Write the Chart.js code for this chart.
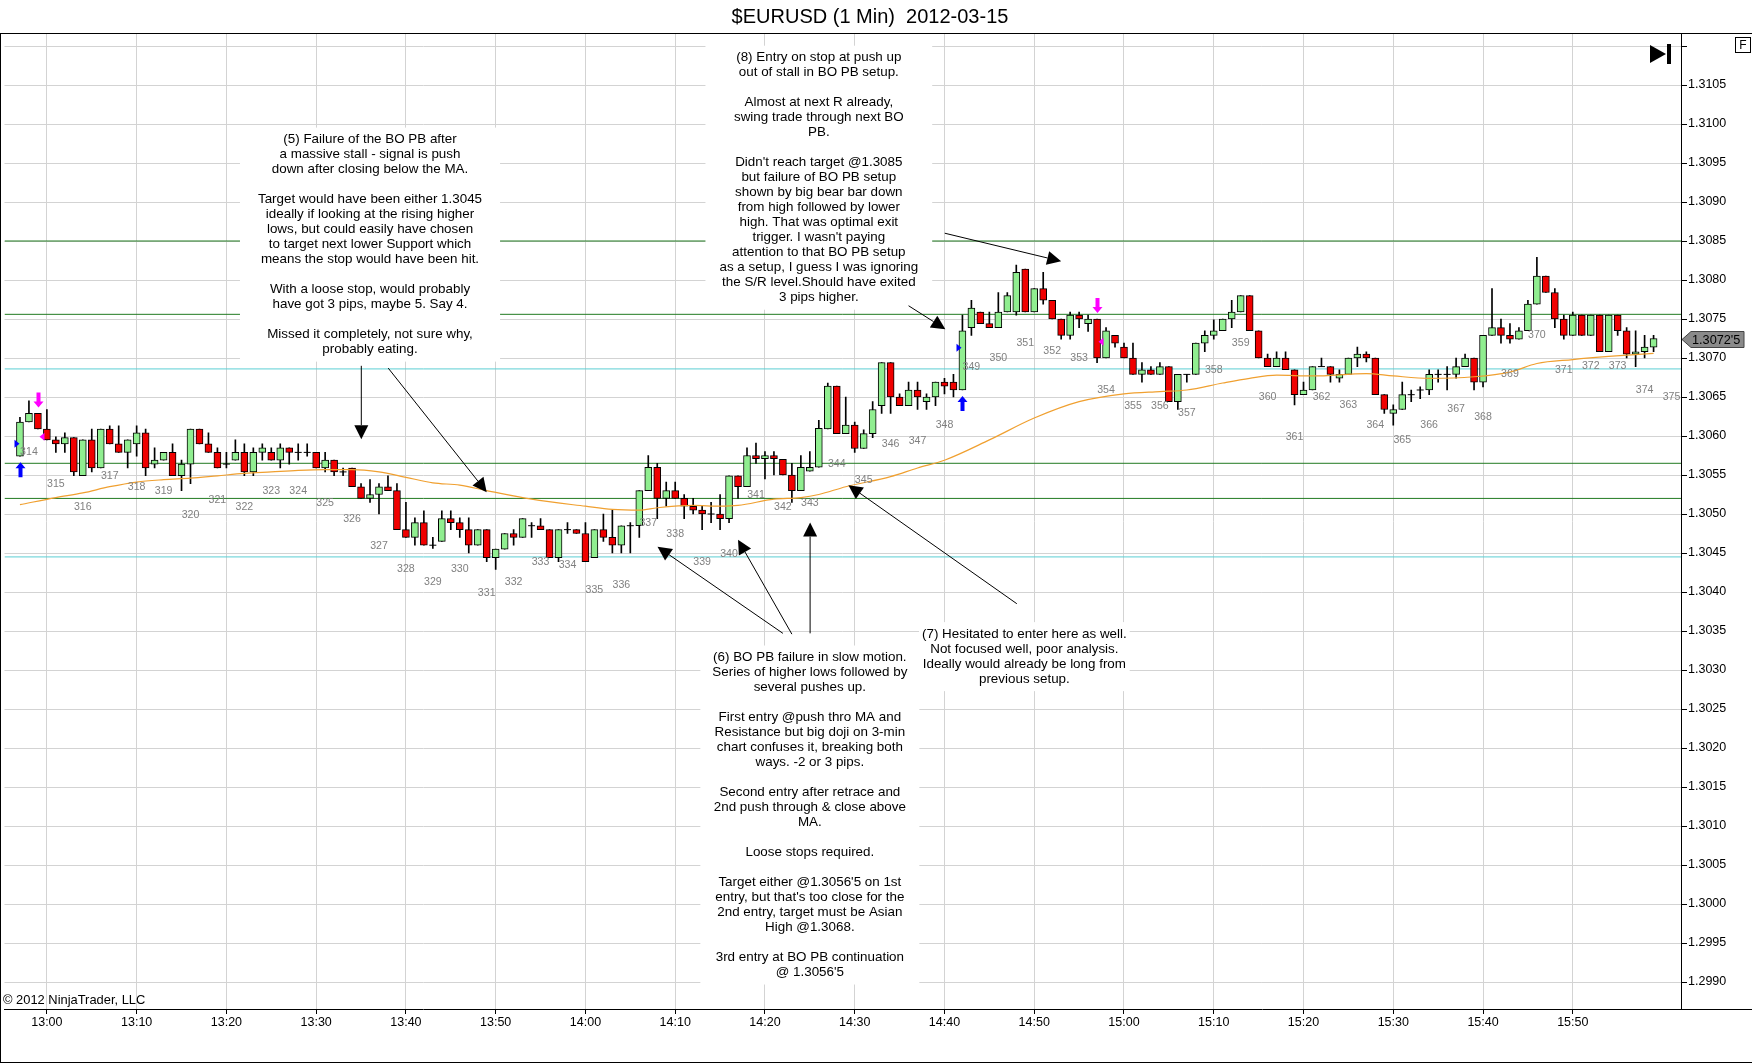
<!DOCTYPE html>
<html><head><meta charset="utf-8">
<script src="https://cdn.jsdelivr.net/npm/chart.js@4.4.0/dist/chart.umd.min.js"></script>
<style>html,body{margin:0;padding:0;background:#fff;overflow:hidden}canvas{display:block}</style>
</head><body>
<canvas id="c" width="1752" height="1064"></canvas>
<script>
// ---------- DATA ----------
const titleText = '$EURUSD (1 Min)  2012-03-15';
const copyrightText = '\u00A9 2012 NinjaTrader, LLC';
const timeTickBars = [3,13,23,33,43,53,63,73,83,93,103,113,123,133,143,153,163,173];
const timeTickLabels = ['13:00','13:10','13:20','13:30','13:40','13:50','14:00','14:10','14:20','14:30','14:40','14:50','15:00','15:10','15:20','15:30','15:40','15:50'];
const yTickValues = [1.2990,1.2995,1.3000,1.3005,1.3010,1.3015,1.3020,1.3025,1.3030,1.3035,1.3040,1.3045,1.3050,1.3055,1.3060,1.3065,1.3070,1.3075,1.3080,1.3085,1.3090,1.3095,1.3100,1.3105,1.3110];
const yTickLabels = ['1.2990','1.2995','1.3000','1.3005','1.3010','1.3015','1.3020','1.3025','1.3030','1.3035','1.3040','1.3045','1.3050','1.3055','1.3060','1.3065','1.3070','1.3075','1.3080','1.3085','1.3090','1.3095','1.3100','1.3105',''];

const open = [
1.30574,1.30618,1.30629,1.30609,1.30595,1.30590,1.30598,1.30549,1.30595,1.30559,
1.30609,1.30590,1.30579,1.30590,1.30604,1.30564,1.30569,1.30579,1.30549,1.30564,
1.30609,1.30590,1.30579,1.30564,1.30569,1.30579,1.30554,1.30579,1.30579,1.30569,
1.30585,1.30579,1.30579,1.30579,1.30559,1.30569,1.30554,1.30559,1.30535,1.30520,
1.30525,1.30535,1.30530,1.30480,1.30470,1.30489,1.30460,1.30465,1.30494,1.30489,
1.30480,1.30460,1.30480,1.30444,1.30455,1.30475,1.30470,1.30485,1.30485,1.30480,
1.30444,1.30480,1.30480,1.30475,1.30444,1.30480,1.30470,1.30460,1.30485,1.30485,
1.30530,1.30560,1.30520,1.30530,1.30520,1.30510,1.30505,1.30500,1.30500,1.30494,
1.30549,1.30535,1.30575,1.30571,1.30575,1.30570,1.30550,1.30530,1.30555,1.30560,
1.30609,1.30664,1.30603,1.30614,1.30584,1.30603,1.30639,1.30694,1.30650,1.30639,
1.30659,1.30644,1.30650,1.30669,1.30669,1.30659,1.30739,1.30759,1.30744,1.30739,
1.30759,1.30759,1.30814,1.30759,1.30789,1.30774,1.30750,1.30729,1.30755,1.30744,
1.30750,1.30700,1.30729,1.30714,1.30700,1.30679,1.30685,1.30679,1.30689,1.30644,
1.30679,1.30679,1.30719,1.30729,1.30735,1.30750,1.30759,1.30780,1.30735,1.30700,
1.30689,1.30700,1.30685,1.30653,1.30659,1.30689,1.30689,1.30674,1.30679,1.30700,
1.30705,1.30700,1.30653,1.30629,1.30634,1.30653,1.30659,1.30659,1.30679,1.30679,
1.30679,1.30689,1.30700,1.30669,1.30729,1.30739,1.30729,1.30724,1.30735,1.30769,
1.30805,1.30784,1.30750,1.30729,1.30755,1.30729,1.30755,1.30708,1.30755,1.30735,
1.30705,1.30708,1.30714];
const high = [
1.30624,1.30645,1.30629,1.30634,1.30599,1.30604,1.30598,1.30595,1.30609,1.30609,
1.30613,1.30613,1.30595,1.30613,1.30609,1.30585,1.30579,1.30590,1.30569,1.30609,
1.30609,1.30604,1.30585,1.30579,1.30595,1.30590,1.30585,1.30590,1.30585,1.30590,
1.30585,1.30590,1.30590,1.30579,1.30579,1.30569,1.30559,1.30559,1.30539,1.30544,
1.30539,1.30549,1.30539,1.30515,1.30495,1.30504,1.30470,1.30504,1.30504,1.30495,
1.30495,1.30480,1.30480,1.30455,1.30475,1.30480,1.30494,1.30489,1.30494,1.30480,
1.30480,1.30489,1.30480,1.30489,1.30480,1.30500,1.30505,1.30485,1.30489,1.30530,
1.30575,1.30565,1.30541,1.30541,1.30525,1.30520,1.30510,1.30515,1.30525,1.30549,
1.30549,1.30585,1.30591,1.30580,1.30580,1.30570,1.30565,1.30575,1.30580,1.30620,
1.30668,1.30664,1.30650,1.30618,1.30608,1.30644,1.30694,1.30694,1.30654,1.30669,
1.30669,1.30654,1.30669,1.30674,1.30679,1.30755,1.30774,1.30759,1.30759,1.30784,
1.30784,1.30819,1.30814,1.30789,1.30810,1.30774,1.30750,1.30759,1.30759,1.30755,
1.30750,1.30739,1.30729,1.30719,1.30719,1.30694,1.30689,1.30694,1.30689,1.30679,
1.30679,1.30719,1.30735,1.30749,1.30750,1.30774,1.30780,1.30780,1.30735,1.30705,
1.30708,1.30708,1.30685,1.30669,1.30689,1.30700,1.30689,1.30685,1.30700,1.30714,
1.30708,1.30700,1.30653,1.30640,1.30669,1.30659,1.30663,1.30685,1.30685,1.30689,
1.30700,1.30705,1.30700,1.30729,1.30789,1.30750,1.30744,1.30739,1.30774,1.30829,
1.30805,1.30789,1.30755,1.30759,1.30755,1.30755,1.30755,1.30755,1.30755,1.30739,
1.30735,1.30729,1.30729];
const low = [
1.30574,1.30618,1.30609,1.30595,1.30579,1.30579,1.30549,1.30549,1.30554,1.30559,
1.30590,1.30579,1.30559,1.30574,1.30549,1.30559,1.30569,1.30549,1.30530,1.30539,
1.30590,1.30579,1.30559,1.30559,1.30569,1.30549,1.30549,1.30569,1.30569,1.30559,
1.30564,1.30569,1.30574,1.30559,1.30554,1.30549,1.30549,1.30535,1.30520,1.30515,
1.30500,1.30530,1.30480,1.30470,1.30460,1.30460,1.30456,1.30465,1.30480,1.30470,
1.30450,1.30460,1.30439,1.30429,1.30455,1.30460,1.30470,1.30470,1.30480,1.30444,
1.30439,1.30475,1.30475,1.30439,1.30444,1.30465,1.30450,1.30450,1.30450,1.30470,
1.30530,1.30494,1.30510,1.30520,1.30494,1.30500,1.30480,1.30489,1.30480,1.30489,
1.30520,1.30535,1.30565,1.30545,1.30550,1.30550,1.30515,1.30530,1.30555,1.30560,
1.30609,1.30603,1.30603,1.30579,1.30584,1.30598,1.30629,1.30629,1.30639,1.30639,
1.30634,1.30634,1.30639,1.30654,1.30650,1.30659,1.30729,1.30744,1.30739,1.30739,
1.30759,1.30755,1.30759,1.30759,1.30769,1.30750,1.30724,1.30724,1.30739,1.30734,
1.30694,1.30700,1.30714,1.30700,1.30679,1.30669,1.30679,1.30679,1.30644,1.30634,
1.30669,1.30679,1.30708,1.30724,1.30735,1.30739,1.30759,1.30735,1.30700,1.30689,
1.30689,1.30685,1.30640,1.30653,1.30659,1.30689,1.30669,1.30669,1.30679,1.30689,
1.30695,1.30653,1.30629,1.30614,1.30634,1.30644,1.30648,1.30653,1.30669,1.30659,
1.30674,1.30689,1.30659,1.30663,1.30729,1.30719,1.30719,1.30724,1.30735,1.30769,
1.30784,1.30739,1.30724,1.30729,1.30729,1.30729,1.30708,1.30708,1.30729,1.30700,
1.30689,1.30700,1.30708];
const close = [
1.30618,1.30629,1.30609,1.30595,1.30590,1.30598,1.30554,1.30595,1.30559,1.30609,
1.30590,1.30579,1.30595,1.30604,1.30559,1.30569,1.30579,1.30549,1.30564,1.30609,
1.30590,1.30579,1.30559,1.30564,1.30579,1.30554,1.30579,1.30585,1.30569,1.30585,
1.30579,1.30579,1.30579,1.30559,1.30569,1.30554,1.30554,1.30535,1.30520,1.30525,
1.30535,1.30530,1.30480,1.30470,1.30489,1.30460,1.30460,1.30494,1.30489,1.30480,
1.30460,1.30480,1.30444,1.30455,1.30475,1.30470,1.30494,1.30485,1.30480,1.30444,
1.30480,1.30480,1.30475,1.30439,1.30480,1.30470,1.30460,1.30485,1.30485,1.30530,
1.30560,1.30520,1.30530,1.30520,1.30510,1.30505,1.30500,1.30500,1.30494,1.30549,
1.30535,1.30575,1.30571,1.30575,1.30571,1.30550,1.30530,1.30560,1.30560,1.30610,
1.30664,1.30603,1.30614,1.30584,1.30603,1.30634,1.30694,1.30650,1.30639,1.30659,
1.30650,1.30650,1.30669,1.30664,1.30659,1.30735,1.30764,1.30744,1.30739,1.30759,
1.30780,1.30810,1.30759,1.30789,1.30774,1.30750,1.30729,1.30755,1.30750,1.30750,
1.30700,1.30735,1.30719,1.30700,1.30679,1.30685,1.30679,1.30689,1.30644,1.30679,
1.30679,1.30719,1.30729,1.30735,1.30750,1.30759,1.30780,1.30735,1.30700,1.30689,
1.30700,1.30685,1.30653,1.30659,1.30689,1.30689,1.30679,1.30679,1.30700,1.30705,
1.30700,1.30653,1.30634,1.30634,1.30653,1.30653,1.30659,1.30679,1.30679,1.30679,
1.30689,1.30700,1.30669,1.30729,1.30739,1.30729,1.30724,1.30735,1.30769,1.30805,
1.30784,1.30750,1.30729,1.30755,1.30729,1.30755,1.30708,1.30755,1.30735,1.30705,
1.30708,1.30714,1.30725];

// moving average at selected bars
const maBars = [0,4,7,10,13,16,19,22,25,28,31,34,37,40,43,46,49,52,57,63,66,69,71,75,78,80,84,87,89,92,97,100,103,108,113,118,123,127,130,134,137,140,144,150,153,157,162,166,169,173,177,182];
const maValues = [1.30512,1.30521,1.30527,1.30535,1.30541,1.30544,1.30546,1.30549,1.30552,1.30554,1.30556,1.30557,1.30557,1.30554,1.30547,1.30540,1.30537,1.30530,1.30519,1.30510,1.30506,1.30505,1.30508,1.30511,1.30510,1.30511,1.30519,1.30521,1.30525,1.30535,1.30548,1.30559,1.30569,1.30595,1.30623,1.30644,1.30654,1.30657,1.30659,1.30668,1.30674,1.30678,1.30677,1.30680,1.30677,1.30674,1.30676,1.30682,1.30693,1.30698,1.30702,1.30706];

// support / resistance levels
const srLevels = [1.30850,1.30756,1.30686,1.30565,1.30520,1.30445];
const srColors = ['#217a21','#217a21','#5ccfd4','#217a21','#217a21','#5ccfd4'];

// bar numbers (every 3rd bar) and the price level they sit at
const barNumbers = [314,315,316,317,318,319,320,321,322,323,324,325,326,327,328,329,330,331,332,333,334,335,336,337,338,339,340,341,342,343,344,345,346,347,348,349,350,351,352,353,354,355,356,357,358,359,360,361,362,363,364,365,366,367,368,369,370,371,372,373,374,375];
const barNumberPrices = [
1.30579,1.30539,1.30509,1.30549,1.30534,1.30529,1.30498,1.30518,1.30509,1.30529,
1.30529,1.30514,1.30493,1.30459,1.30429,1.30413,1.30429,1.30398,1.30413,1.30438,
1.30434,1.30403,1.30409,1.30488,1.30474,1.30438,1.30448,1.30524,1.30509,1.30514,
1.30564,1.30544,1.30590,1.30594,1.30614,1.30689,1.30700,1.30719,1.30709,1.30700,
1.30659,1.30639,1.30639,1.30629,1.30685,1.30719,1.30650,1.30598,1.30650,1.30640,
1.30614,1.30595,1.30614,1.30634,1.30624,1.30679,1.30729,1.30685,1.30690,1.30690,
1.30659,1.30650];

// trade signals
const entryBars = [0,105];
const entryPrices = [1.30590,1.30713];
const exitBars = [2,120];
const exitPrices = [1.30599,1.30721];

// notes
const note5 = ['(5) Failure of the BO PB after','a massive stall - signal is push','down after closing below the MA.','','Target would have been either 1.3045','ideally if looking at the rising higher','lows, but could easily have chosen','to target next lower Support which','means the stop would have been hit.','','With a loose stop, would probably','have got 3 pips, maybe 5. Say 4.','','Missed it completely, not sure why,','probably eating.'];
const note8 = ['(8) Entry on stop at push up','out of stall in BO PB setup.','','Almost at next R already,','swing trade through next BO','PB.','',"Didn't reach target @1.3085",'but failure of BO PB setup','shown by big bear bar down','from high followed by lower','high. That was optimal exit',"trigger. I wasn't paying",'attention to that BO PB setup','as a setup, I guess I was ignoring','the S/R level.Should have exited','3 pips higher.'];
const note6 = ['(6) BO PB failure in slow motion.','Series of higher lows followed by','several pushes up.','','First entry @push thro MA and','Resistance but big doji on 3-min','chart confuses it, breaking both','ways. -2 or 3 pips.','','Second entry after retrace and','2nd push through & close above','MA.','','Loose stops required.','',"Target either @1.3056'5 on 1st","entry, but that's too close for the",'2nd entry, target must be Asian','High @1.3068.','','3rd entry at BO PB continuation',"@ 1.3056'5"];
const note7 = ['(7) Hesitated to enter here as well.','Not focused well, poor analysis.','Ideally would already be long from','previous setup.'];
const noteLines = [note5, note8, note6, note7];
const noteBars = [39.0, 89.0, 88.0, 111.9];
const notePrices = [1.30980, 1.31085, 1.30316, 1.30346];
const notePadX = [18, 14, 12, 3];

// arrows: from (bar, price) to (bar, price)
const arrowsFromBar  = [38.03, 41.03, 99.0, 103.03, 111.06, 85.0, 86.0, 88.03];
const arrowsFromPrice= [1.30690, 1.30687, 1.30767, 1.30860, 1.30385, 1.30347, 1.30346, 1.30347];
const arrowsToBar    = [38.03, 52.0, 103.1, 116.0, 92.3, 71.03, 80.0, 88.03];
const arrowsToPrice  = [1.30596, 1.30528, 1.30737, 1.30824, 1.30537, 1.30458, 1.30467, 1.30489];

// ---------- BUILD ----------
const FONT = '"Liberation Sans", Arial, sans-serif';
const X_MIN = -15.5/9, X_MAX = X_MIN + 1681/9;
const Y_MIN = 1.298654, Y_MAX = 1.311154;

const bodyData = [], bodyColors = [], dojiData = [], wickData = [];
for (let i = 0; i < open.length; i++) {
  wickData.push({x: i, y: [low[i], high[i]]});
  if (open[i] === close[i]) dojiData.push({x: i, y: open[i]});
  else {
    bodyData.push({x: i, y: [open[i], close[i]]});
    bodyColors.push(close[i] > open[i] ? '#90ee90' : '#f00000');
  }
}
const maData = maBars.map((b, i) => ({x: b, y: maValues[i]}));
const srDatasets = srLevels.map((lv, i) => ({
  type: 'line', data: [{x: X_MIN, y: lv}, {x: X_MAX, y: lv}],
  borderColor: srColors[i], borderWidth: 1, pointRadius: 0, tension: 0
}));

function fmtPrice(p) {
  const s = (Math.round(p * 100000)).toString();
  return s[0] + '.' + s.slice(1, 5) + "'" + s.slice(5);
}

const overlay = {
  id: 'overlay',
  afterDatasetsDraw(chart) {
    const ctx = chart.ctx, xs = chart.scales.x, ys = chart.scales.y, A = chart.chartArea;
    const px = v => xs.getPixelForValue(v), py = v => ys.getPixelForValue(v);
    ctx.save();
    ctx.beginPath(); ctx.rect(A.left, A.top, A.right - A.left, A.bottom - A.top); ctx.clip();

    // bar numbers
    ctx.font = '10.6px ' + FONT; ctx.fillStyle = '#808080';
    ctx.textAlign = 'center'; ctx.textBaseline = 'middle';
    barNumbers.forEach((n, i) => ctx.fillText(String(n), px(1 + 3 * i), py(barNumberPrices[i])));

    // entry signals (blue)
    ctx.fillStyle = '#0000ff';
    entryBars.forEach((b, i) => {
      const x = Math.round(px(b)) + 0.5, t = py(low[b]) + 6;
      ctx.beginPath();
      ctx.moveTo(x, t); ctx.lineTo(x + 5, t + 6); ctx.lineTo(x + 2, t + 6); ctx.lineTo(x + 2, t + 15);
      ctx.lineTo(x - 2, t + 15); ctx.lineTo(x - 2, t + 6); ctx.lineTo(x - 5, t + 6); ctx.closePath(); ctx.fill();
      const y = py(entryPrices[i]);
      ctx.beginPath(); ctx.moveTo(x - 1, y); ctx.lineTo(x - 6, y - 4); ctx.lineTo(x - 6, y + 4); ctx.closePath(); ctx.fill();
    });
    // exit signals (magenta)
    ctx.fillStyle = '#ff00ff';
    exitBars.forEach((b, i) => {
      const x = Math.round(px(b)) + 0.5, t = py(high[b]) - 6;
      ctx.beginPath();
      ctx.moveTo(x, t); ctx.lineTo(x + 5, t - 6); ctx.lineTo(x + 2, t - 6); ctx.lineTo(x + 2, t - 15);
      ctx.lineTo(x - 2, t - 15); ctx.lineTo(x - 2, t - 6); ctx.lineTo(x - 5, t - 6); ctx.closePath(); ctx.fill();
      const y = py(exitPrices[i]);
      ctx.beginPath(); ctx.moveTo(x + 1, y); ctx.lineTo(x + 6, y - 4); ctx.lineTo(x + 6, y + 4); ctx.closePath(); ctx.fill();
    });

    // notes
    ctx.font = '13.4px ' + FONT;
    noteLines.forEach((lines, n) => {
      const cx = px(noteBars[n]), y0 = py(notePrices[n]);
      const w = Math.max(...lines.map(l => ctx.measureText(l).width)) + 2 * notePadX[n];
      const h = (lines.length - 1) * 15 + 24;
      ctx.fillStyle = '#ffffff';
      ctx.fillRect(cx - w / 2, y0 - 12, w, h);
      ctx.fillStyle = '#000000';
      lines.forEach((l, i) => ctx.fillText(l, cx, y0 + i * 15));
    });

    // arrows
    ctx.strokeStyle = '#000'; ctx.fillStyle = '#000'; ctx.lineWidth = 1;
    arrowsFromBar.forEach((fb, i) => {
      const x1 = px(fb), y1 = py(arrowsFromPrice[i]), x2 = px(arrowsToBar[i]), y2 = py(arrowsToPrice[i]);
      const ang = Math.atan2(y2 - y1, x2 - x1), L = 14, W = 7;
      const bx = x2 - L * Math.cos(ang), by = y2 - L * Math.sin(ang);
      ctx.beginPath(); ctx.moveTo(x1, y1); ctx.lineTo(bx, by); ctx.stroke();
      ctx.beginPath(); ctx.moveTo(x2, y2);
      ctx.lineTo(bx + W * Math.sin(ang), by - W * Math.cos(ang));
      ctx.lineTo(bx - W * Math.sin(ang), by + W * Math.cos(ang));
      ctx.closePath(); ctx.fill();
    });
    ctx.restore();
  },
  afterDraw(chart) {
    const ctx = chart.ctx, ys = chart.scales.y, A = chart.chartArea;
    const W = chart.width, H = chart.height;
    ctx.save();
    // title
    ctx.fillStyle = '#000'; ctx.font = '20px ' + FONT; ctx.textAlign = 'center'; ctx.textBaseline = 'middle';
    ctx.fillText(titleText, 870, 17);
    // frame lines
    ctx.strokeStyle = '#000'; ctx.lineWidth = 1;
    ctx.beginPath();
    ctx.moveTo(0, A.top - 0.5); ctx.lineTo(W, A.top - 0.5);
    ctx.moveTo(0.5, A.top); ctx.lineTo(0.5, H - 2);
    ctx.moveTo(0, H - 1.5); ctx.lineTo(W, H - 1.5);
    ctx.moveTo(A.right, A.bottom + 0.5); ctx.lineTo(W, A.bottom + 0.5);
    ctx.stroke();
    // copyright
    ctx.font = '12.9px ' + FONT; ctx.textAlign = 'left'; ctx.textBaseline = 'middle';
    ctx.fillText(copyrightText, 3, A.bottom - 9);
    // last price marker
    const last = close[close.length - 1];
    const y = Math.round(ys.getPixelForValue(last)) + 0.5;
    ctx.beginPath();
    ctx.moveTo(A.right + 1, y); ctx.lineTo(A.right + 10, y - 8); ctx.lineTo(1744, y - 8);
    ctx.lineTo(1744, y + 8); ctx.lineTo(A.right + 10, y + 8); ctx.closePath();
    ctx.fillStyle = '#8a8a8a'; ctx.fill(); ctx.strokeStyle = '#444'; ctx.stroke();
    ctx.fillStyle = '#000'; ctx.font = '12.7px ' + FONT;
    ctx.fillText(fmtPrice(last), A.right + 11, y + 0.5);
    // play-to-end icon
    ctx.beginPath(); ctx.moveTo(1650, 45); ctx.lineTo(1666, 54); ctx.lineTo(1650, 63); ctx.closePath(); ctx.fill();
    ctx.fillRect(1667, 44, 4, 20);
    // F box
    ctx.strokeStyle = '#000'; ctx.strokeRect(1735.5, 37.5, 15, 15);
    ctx.font = '12px ' + FONT; ctx.textAlign = 'center';
    ctx.fillText('F', 1743, 45.5);
    ctx.restore();
  }
};

Chart.defaults.font.family = FONT;
new Chart(document.getElementById('c'), {
  type: 'bar',
  data: {
    datasets: [
      { type: 'line', label: 'MA', data: maData, borderColor: '#f0a030', borderWidth: 1.2, pointRadius: 0, cubicInterpolationMode: 'monotone' },
      { type: 'scatter', label: 'doji', data: dojiData, pointStyle: 'line', pointRadius: 3.5, pointHoverRadius: 3.5, borderColor: '#000', borderWidth: 1, showLine: false },
      { type: 'bar', label: 'bodies', data: bodyData, backgroundColor: bodyColors, borderColor: '#000', borderWidth: 1, borderSkipped: false, barThickness: 7, grouped: false },
      { type: 'bar', label: 'wicks', data: wickData, backgroundColor: '#000', borderWidth: 0, barThickness: 1, grouped: false },
      ...srDatasets
    ]
  },
  options: {
    responsive: false, animation: false, devicePixelRatio: 1,
    layout: { padding: { top: 34, left: 0, right: 0, bottom: 0 } },
    plugins: { legend: { display: false }, tooltip: { enabled: false }, title: { display: false } },
    scales: {
      x: {
        type: 'linear', min: X_MIN, max: X_MAX, offset: false,
        afterBuildTicks: s => { s.ticks = timeTickBars.map(v => ({ value: v })); },
        afterFit: s => { s.height = 55; },
        ticks: { autoSkip: false, maxRotation: 0, padding: 1, color: '#000', font: { size: 12.5 },
                 callback: (v, i) => timeTickLabels[i] },
        grid: { offset: false, color: '#d3d3d3', lineWidth: 1, tickLength: 5, tickColor: '#000' },
        border: { display: true, color: '#000', width: 1 }
      },
      y: {
        type: 'linear', position: 'right', min: Y_MIN, max: Y_MAX,
        afterBuildTicks: s => { s.ticks = yTickValues.map(v => ({ value: v })); },
        afterFit: s => { s.width = 71; },
        ticks: { padding: 1, color: '#000', font: { size: 12.5 }, callback: (v, i) => yTickLabels[i] },
        grid: { offset: false, color: '#d3d3d3', lineWidth: 1, tickLength: 6, tickColor: '#000' },
        border: { display: true, color: '#000', width: 1 }
      }
    }
  },
  plugins: [overlay]
});
</script>
</body></html>
